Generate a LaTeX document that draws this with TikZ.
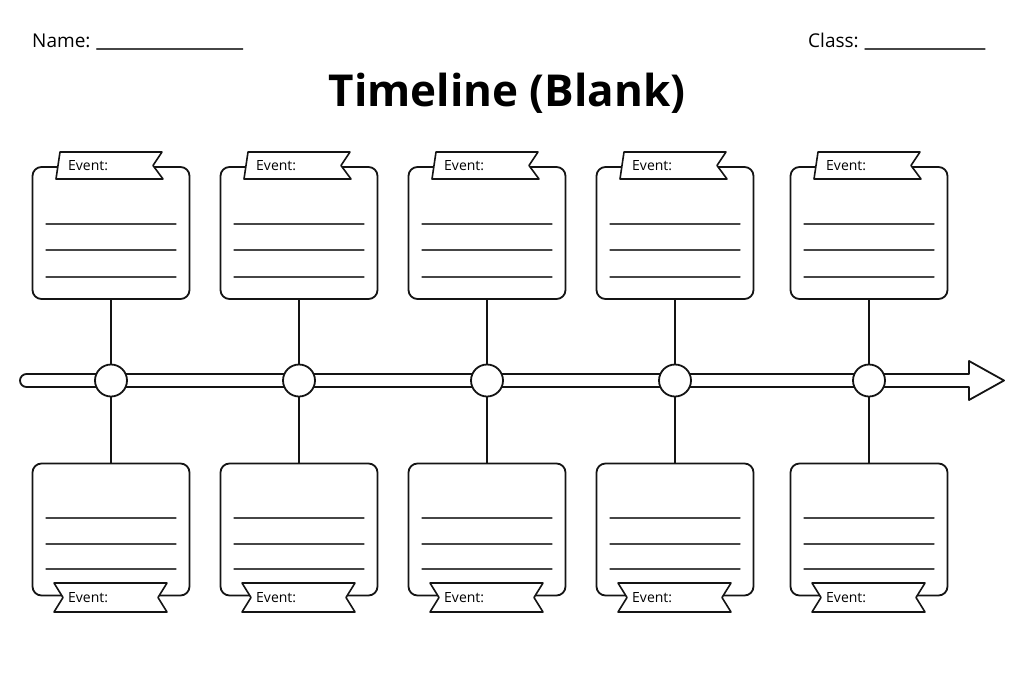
\documentclass[tikz,border=0pt]{standalone}
\usepackage{fontspec}
\setsansfont{Open Sans}
\usetikzlibrary{calc}

\begin{document}
\begin{tikzpicture}[x=1pt, y=-1pt, line cap=round, line join=round,
      font=\sffamily, every node/.style={inner sep=0pt}]
    \definecolor{inkBlack}{RGB}{20,20,20}
    \definecolor{ruleGray}{RGB}{70,70,70}
    \tikzset{
      card/.style={draw=inkBlack, line width=1.8pt, rounded corners=9pt, fill=white,
        minimum width=157pt, minimum height=132pt},
      banner/.style={draw=inkBlack, line width=1.6pt, fill=white},
      dot/.style={circle, draw=inkBlack, line width=1.8pt, fill=white, minimum size=32pt},
      stem/.style={inkBlack, line width=1.5pt},
      writeline/.style={ruleGray, line width=1.3pt},
      evtext/.style={anchor=west, font=\sffamily\fontsize{14}{16}\selectfont}
    }
    \useasboundingbox (0,0) rectangle (1024,683);
    % ==== header ====
    \node[anchor=base west, font=\sffamily\fontsize{19}{23}\selectfont] (name) at (32,47) {Name:};
    \draw[ruleGray, line width=1.3pt] ($(name.base east)+(6,2)$) -- ++(146,0);
    \node[anchor=base west, font=\sffamily\fontsize{19}{23}\selectfont] (class) at (808,47) {Class:};
    \draw[ruleGray, line width=1.3pt] ($(class.base east)+(6,2)$) -- ++(120,0);
    \node[anchor=base, font=\sffamily\bfseries\fontsize{44}{50}\selectfont] (title) at (507,106)
      {Timeline (Blank)};
    % ==== timeline bar with arrow head ====
    \draw[inkBlack, line width=1.8pt, fill=white] (969,374) -- (26.5,374)
      arc[start angle=90, end angle=270, radius=6.5pt] -- (969,387) -- (969,400)
      -- (1004,380.5) -- (969,361) -- cycle;
    % ==== event cards, five columns ====
    \foreach \i/\cx in {1/111, 2/299, 3/487, 4/675, 5/869}{
      \node[card] (top\i) at (\cx,233) {};
      \node[card] (bot\i) at (\cx,529.5) {};
      \node[dot] (dot\i) at (\cx,380.5) {};
      \draw[stem] (top\i.south) -- (dot\i.north);
      \draw[stem] (dot\i.south) -- (bot\i.north);
      % writing lines
      \foreach \y in {224,250,277}
        \draw[writeline] (\cx-65,\y) -- (\cx+65,\y);
      \foreach \y in {518,544,569}
        \draw[writeline] (\cx-65,\y) -- (\cx+65,\y);
      % top banner
      \draw[banner] (\cx-51,152) -- (\cx+51,152) -- (\cx+42,165.5) -- (\cx+52,179)
        -- (\cx-55,179) -- cycle;
      \node[evtext] (etop\i) at (\cx-43,165.5) {Event:};
      % bottom banner
      \draw[banner] (\cx-57,583) -- (\cx+56,583) -- (\cx+47,597.5) -- (\cx+56,612)
        -- (\cx-57,612) -- (\cx-48,597.5) -- cycle;
      \node[evtext] (ebot\i) at (\cx-43,597.5) {Event:};
    }
  \end{tikzpicture}
\end{document}
